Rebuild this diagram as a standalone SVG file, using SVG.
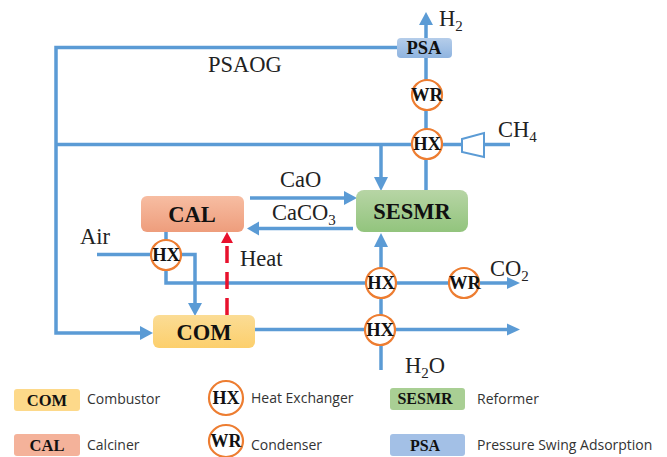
<svg xmlns="http://www.w3.org/2000/svg" width="667" height="457" viewBox="0 0 667 457">
<style>
.c{fill:none;stroke:#5b9bd5;stroke-width:3.5}
.h{fill:#5b9bd5}
.r{fill:#fff;stroke:#ed7d31;stroke-width:2.2}
text{font-family:"Liberation Serif",serif;fill:#222}
.b{font-weight:bold;fill:#111;text-anchor:middle}
.m{font-size:18.500px}
.n{font-size:22.500px}
.l{font-size:22.500px}
.s{font-family:"Open Sans","Noto Sans",sans-serif;font-size:14px;fill:#333}
</style>
<defs>
<linearGradient id="gb" x1="0" y1="0" x2="0" y2="1"><stop offset="0" stop-color="#b5cdea"/><stop offset="1" stop-color="#8fb4e0"/></linearGradient>
<linearGradient id="gg" x1="0" y1="0" x2="0" y2="1"><stop offset="0" stop-color="#b7d5a5"/><stop offset="1" stop-color="#92c47d"/></linearGradient>
<linearGradient id="gr" x1="0" y1="0" x2="0" y2="1"><stop offset="0" stop-color="#f7bda2"/><stop offset="1" stop-color="#ee9d7c"/></linearGradient>
<linearGradient id="gy" x1="0" y1="0" x2="0" y2="1"><stop offset="0" stop-color="#fbdc95"/><stop offset="1" stop-color="#fccf6c"/></linearGradient>
</defs>
<g id="connectors">
<path class="c" d="M397 47.500H56V333H142"/>
<path class="c" d="M56 144.500H510"/>
<path class="c" d="M426 38V22M426 190V58"/>
<path class="c" d="M381 146V180"/>
<path class="c" d="M250 198H345"/>
<path class="c" d="M353 228.500H258"/>
<path class="c" d="M97 254.500H195V306"/>
<path class="c" d="M166 232V283H508"/>
<path class="c" d="M381 370V246"/>
<path class="c" d="M255 329.500H508"/>
<path d="M227 315V240" fill="none" stroke="#e8112d" stroke-width="3.500" stroke-dasharray="17 9"/>
<path class="h" d="M426 12l-7 13h14z"/>
<path class="h" d="M381 191l-7-14h14z"/>
<path class="h" d="M357 198l-13-7v14z"/>
<path class="h" d="M247 228.500l12-7v14z"/>
<path class="h" d="M195 316l-7-13h14z"/>
<path class="h" d="M153 333l-13-7v14z"/>
<path class="h" d="M381 233l-7 14h14z"/>
<path class="h" d="M520 283l-13-6v12z"/>
<path class="h" d="M520 329.500l-13-6v12z"/>
<path d="M227 232l-6 11h12z" fill="#e8112d"/>
</g>
<g id="psa"><rect x="397" y="38" width="55" height="20" rx="4" fill="url(#gb)"/><text class="b m" x="424" y="54">PSA</text></g>
<g id="wr1"><circle class="r" cx="427" cy="95" r="15"/><text class="b m" x="427" y="101" textLength="32" lengthAdjust="spacingAndGlyphs">WR</text></g>
<g id="hx1"><circle class="r" cx="427" cy="144" r="15"/><text class="b m" x="427" y="150">HX</text></g>
<g id="compressor"><path d="M462 139L484 133V157L462 152Z" fill="#fff" stroke="#5b9bd5" stroke-width="2"/></g>
<g id="sesmr"><rect x="356" y="190" width="112" height="42" rx="8" fill="url(#gg)"/><text class="b n" x="412" y="219">SESMR</text></g>
<g id="cal"><rect x="141" y="196" width="103" height="36" rx="6" fill="url(#gr)"/><text class="b n" x="192" y="222">CAL</text></g>
<g id="com"><rect x="153" y="315" width="102" height="33" rx="6" fill="url(#gy)"/><text class="b n" x="204" y="340">COM</text></g>
<g id="hx2"><circle class="r" cx="166" cy="255" r="15"/><text class="b m" x="166" y="261">HX</text></g>
<g id="hx3"><circle class="r" cx="381" cy="283" r="15"/><text class="b m" x="381" y="289">HX</text></g>
<g id="wr2"><circle class="r" cx="464" cy="283" r="15"/><text class="b m" x="465" y="289" textLength="32" lengthAdjust="spacingAndGlyphs">WR</text></g>
<g id="hx4"><circle class="r" cx="380" cy="330" r="15"/><text class="b m" x="380" y="336">HX</text></g>
<g id="labels">
<text class="l" x="439" y="26">H<tspan font-size="15" dy="5">2</tspan></text>
<text class="l" x="208" y="72">PSAOG</text>
<text class="l" x="498" y="137">CH<tspan font-size="15" dy="5">4</tspan></text>
<text class="l" x="280" y="187">CaO</text>
<text class="l" x="272" y="220">CaCO<tspan font-size="15" dy="5">3</tspan></text>
<text class="l" x="80" y="244">Air</text>
<text class="l" x="240" y="266">Heat</text>
<text class="l" x="490" y="276">CO<tspan font-size="15" dy="5">2</tspan></text>
<text class="l" x="405" y="373">H<tspan font-size="15" dy="5">2</tspan><tspan dy="-5">O</tspan></text>
</g>
<g id="legend-com"><rect x="14" y="389" width="66" height="22" rx="3" fill="#fdd98a"/><text class="b" font-size="16.500" x="47" y="406">COM</text><text class="s" x="87" y="404">Combustor</text></g>
<g id="legend-cal"><rect x="14" y="434" width="66" height="22" rx="3" fill="#f4b29a"/><text class="b" font-size="16.500" x="47" y="451">CAL</text><text class="s" x="87" y="450">Calciner</text></g>
<g id="legend-hx"><ellipse class="r" cx="226" cy="398" rx="17" ry="17"/><text class="b" font-size="18" x="226" y="404">HX</text><text class="s" x="251" y="403">Heat Exchanger</text></g>
<g id="legend-wr"><ellipse class="r" cx="226" cy="441" rx="17" ry="16"/><text class="b" font-size="18" x="226" y="447">WR</text><text class="s" x="251" y="450">Condenser</text></g>
<g id="legend-sesmr"><rect x="390" y="388" width="75" height="22" rx="3" fill="#a9cf94"/><text class="b" font-size="16" x="425" y="404">SESMR</text><text class="s" x="477" y="404">Reformer</text></g>
<g id="legend-psa"><rect x="390" y="434" width="75" height="22" rx="3" fill="#a3c0e6"/><text class="b" font-size="16" x="425" y="451">PSA</text><text class="s" x="477" y="450">Pressure Swing Adsorption</text></g>
</svg>
